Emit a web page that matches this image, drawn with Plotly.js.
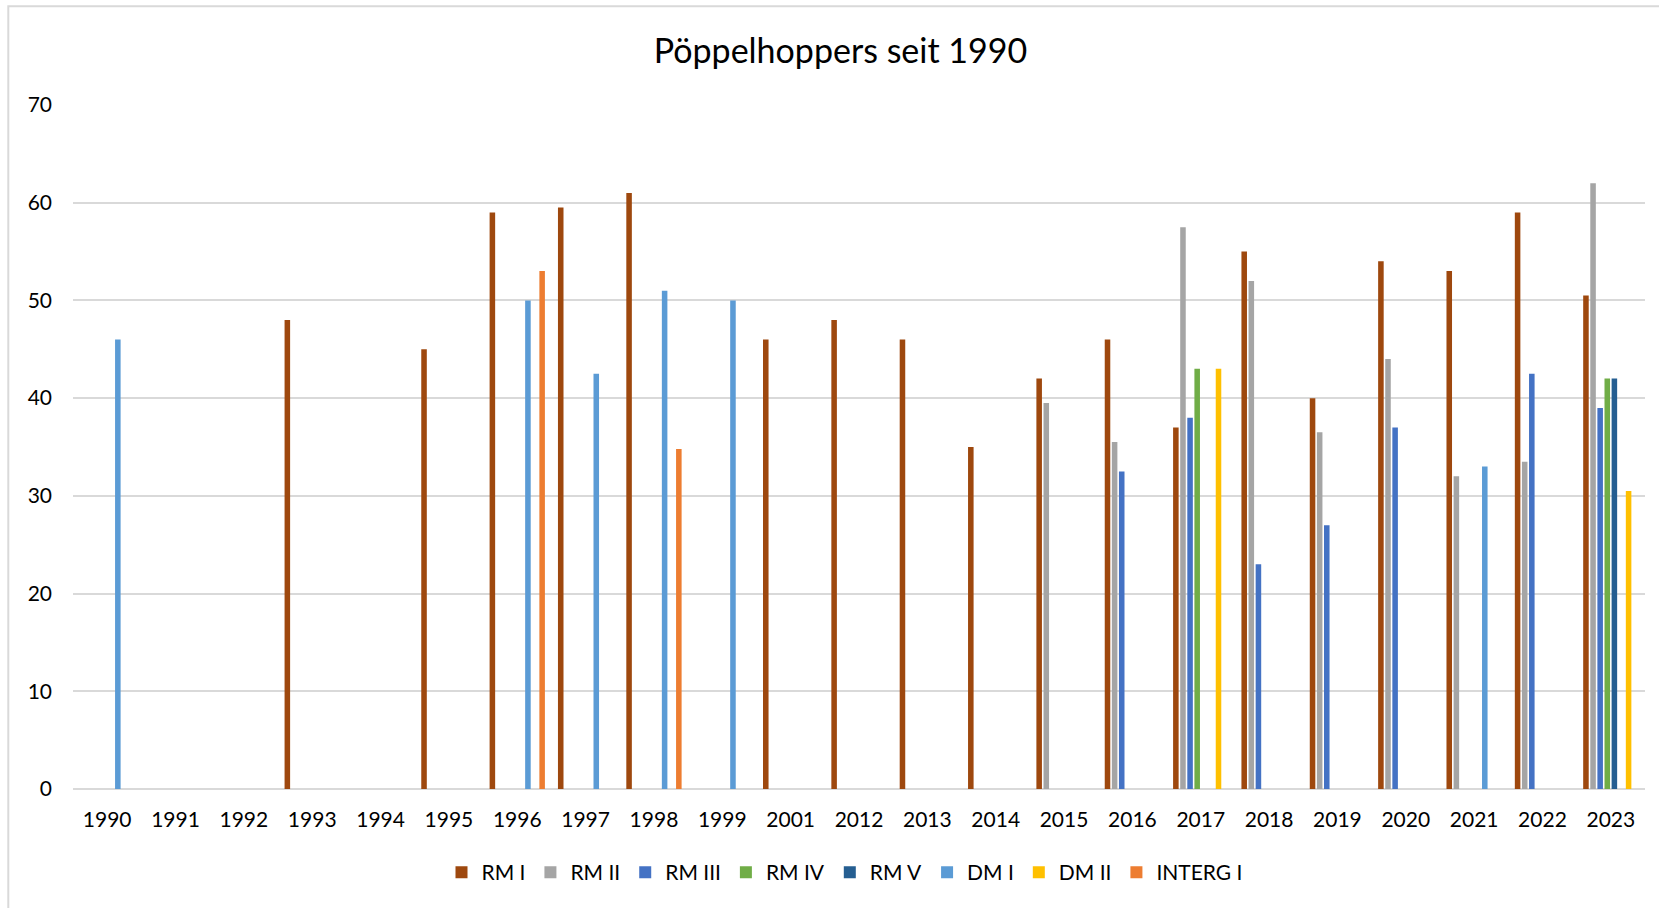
<!DOCTYPE html>
<html>
<head>
<meta charset="utf-8">
<script src="https://cdn.plot.ly/plotly-3.0.1.min.js"></script>
<style>
  html, body { margin: 0; padding: 0; background: #ffffff; }
  #chart { width: 1659px; height: 908px; }
</style>
</head>
<body>
<div id="chart"></div>
<script>
const categories = ['1990','1991','1992','1993','1994','1995','1996','1997','1998','1999','2001','2012','2013','2014','2015','2016','2017','2018','2019','2020','2021','2022','2023'];

const seriesNames = ['RM I','RM II','RM III','RM IV','RM V','DM I','DM II','INTERG I'];

const rmI     = [null,null,null,48,null,45,59,59.5,61,null,46,48,46,35,42,46,37,55,40,54,53,59,50.5];
const rmII    = [null,null,null,null,null,null,null,null,null,null,null,null,null,null,39.5,35.5,57.5,52,36.5,44,32,33.5,62];
const rmIII   = [null,null,null,null,null,null,null,null,null,null,null,null,null,null,null,32.5,38,23,27,37,null,42.5,39];
const rmIV    = [null,null,null,null,null,null,null,null,null,null,null,null,null,null,null,null,43,null,null,null,null,null,42];
const rmV     = [null,null,null,null,null,null,null,null,null,null,null,null,null,null,null,null,null,null,null,null,null,null,42];
const dmI     = [46,null,null,null,null,null,50,42.5,51,50,null,null,null,null,null,null,null,null,null,null,33,null,null];
const dmII    = [null,null,null,null,null,null,null,null,null,null,null,null,null,null,null,null,43,null,null,null,null,null,30.5];
const intergI = [null,null,null,null,null,null,53,null,34.8,null,null,null,null,null,null,null,null,null,null,null,null,null,null];

const seriesValues = [rmI, rmII, rmIII, rmIV, rmV, dmI, dmII, intergI];
const seriesColors = ['#9E480E','#A5A5A5','#4472C4','#70AD47','#255E91','#5B9BD5','#FFC000','#ED7D31'];

const FONT = "Lato, 'Open Sans', 'DejaVu Sans', sans-serif";

const traces = seriesNames.map((name, i) => ({
  type: 'bar',
  name: name,
  x: categories,
  y: seriesValues[i],
  marker: { color: seriesColors[i], line: { width: 0 } },
  hoverinfo: 'x+y+name'
}));

const W = 1659, H = 908;
const L = 73, R = 14, T = 105, B = 119;
const plotW = W - L - R, plotH = H - T - B;

const layout = {
  width: W,
  height: H,
  margin: { l: L, r: R, t: T, b: B, pad: 0 },
  paper_bgcolor: '#ffffff',
  plot_bgcolor: '#ffffff',
  font: { family: FONT, size: 21, color: '#000000' },
  title: {
    text: 'Pöppelhoppers seit 1990',
    font: { family: FONT, size: 34, color: '#000000' },
    xref: 'container', yref: 'container',
    x: 840.5 / W, xanchor: 'center',
    y: 1 - 51 / H, yanchor: 'middle'
  },
  barmode: 'group',
  bargap: 0.168,
  bargroupgap: 0.22,
  xaxis: {
    type: 'category',
    showgrid: false,
    showline: false,
    zeroline: false,
    ticks: '',
    tickfont: { family: FONT, size: 21, color: '#000000' },
    ticklabelstandoff: 16,
    fixedrange: true
  },
  yaxis: {
    range: [0, 70],
    dtick: 10,
    tick0: 0,
    showgrid: true,
    gridcolor: '#D9D9D9',
    gridwidth: 2,
    zeroline: true,
    zerolinecolor: '#D9D9D9',
    zerolinewidth: 2,
    showline: false,
    ticks: '',
    tickfont: { family: FONT, size: 21, color: '#000000' },
    ticklabelstandoff: 20,
    fixedrange: true
  },
  showlegend: true,
  legend: {
    orientation: 'h',
    xref: 'paper', yref: 'paper',
    x: (844.5 - L) / plotW, xanchor: 'center',
    y: (H - B - 872.5) / plotH, yanchor: 'middle',
    font: { family: FONT, size: 21, color: '#000000' },
    traceorder: 'normal',
    itemclick: false,
    itemdoubleclick: false
  },
  shapes: [{
    type: 'rect',
    xref: 'paper', yref: 'paper',
    x0: (8.3 - L) / plotW, x1: 1.1,
    y0: -0.4, y1: (H - B - 6.3) / plotH,
    line: { color: '#D9D9D9', width: 2 },
    fillcolor: 'rgba(0,0,0,0)',
    layer: 'below'
  }]
};

Plotly.newPlot('chart', traces, layout, { displayModeBar: false, responsive: false });
</script>
</body>
</html>
